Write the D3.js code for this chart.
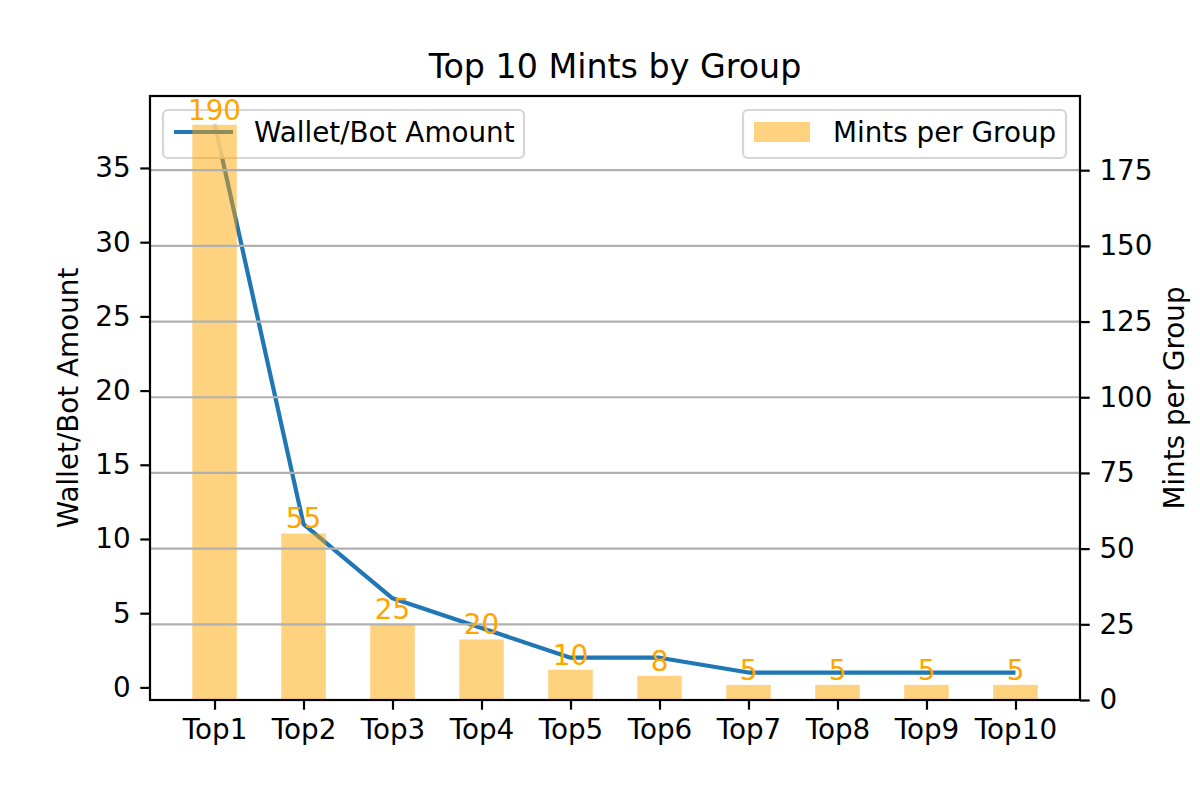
<!DOCTYPE html>
<html>
<head>
<meta charset="utf-8">
<script src="https://cdn.jsdelivr.net/npm/d3@7"></script>
<style>
  body { margin: 0; background: #fff; }
  text { font-family: "DejaVu Sans", sans-serif; }
</style>
</head>
<body>
<div id="chart"></div>
<script>
var groups = ["Top1", "Top2", "Top3", "Top4", "Top5", "Top6", "Top7", "Top8", "Top9", "Top10"];
var walletAmounts = [38, 11, 6, 4, 2, 2, 1, 1, 1, 1];
var mintsPerGroup = [190, 55, 25, 20, 10, 8, 5, 5, 5, 5];
var leftTicks = [0, 5, 10, 15, 20, 25, 30, 35];
var rightTicks = [0, 25, 50, 75, 100, 125, 150, 175];

var width = 1200, height = 800;
// plot box (note: "top" is a reserved window global, so use other names)
var plotL = 150, plotR = 1080, plotT = 96, plotB = 700;
var fs = 27.8;          // 10pt at 200 dpi
var tick = 9.7, lw = 2.2;
var blue = "#1f77b4";
var barColor = "orange";

var svg = d3.select("#chart").append("svg")
    .attr("width", width)
    .attr("height", height);

// scales, with matplotlib style margins
var barW = 0.5;
var xPad = (groups.length - 1 + barW) * 0.05;
var x = d3.scaleLinear()
    .domain([-barW / 2 - xPad, groups.length - 1 + barW / 2 + xPad])
    .range([plotL, plotR]);

var wMin = d3.min(walletAmounts), wMax = d3.max(walletAmounts);
var wPad = (wMax - wMin) * 0.05;
var y1 = d3.scaleLinear().domain([wMin - wPad, wMax + wPad]).range([plotB, plotT]);
var y2 = d3.scaleLinear().domain([0, d3.max(mintsPerGroup) * 1.05]).range([plotB, plotT]);

// line on the left axis
var line = d3.line()
    .x(function(d, i) { return x(i); })
    .y(function(d) { return y1(d); });

svg.append("path")
    .datum(walletAmounts)
    .attr("d", line)
    .attr("fill", "none")
    .attr("stroke", blue)
    .attr("stroke-width", 4.2)
    .attr("stroke-linejoin", "round");

function legendBox(bx, bw) {
  var g = svg.append("g");
  g.append("rect")
      .attr("x", bx).attr("y", 110)
      .attr("width", bw).attr("height", 48)
      .attr("rx", 5)
      .attr("fill", "#fff").attr("fill-opacity", 0.8)
      .attr("stroke", "#cccccc").attr("stroke-opacity", 0.8)
      .attr("stroke-width", 2.2);
  return g;
}

// legend of the left axis sits below the bars
var leg1 = legendBox(163, 361);
leg1.append("line")
    .attr("x1", 174).attr("x2", 233)
    .attr("y1", 132).attr("y2", 132)
    .attr("stroke", blue).attr("stroke-width", 4.2);
leg1.append("text")
    .attr("x", 254).attr("y", 132).attr("dy", "0.36em")
    .attr("font-size", fs)
    .text("Wallet/Bot Amount");

// bars on the right axis
svg.selectAll(".bar")
    .data(mintsPerGroup)
    .enter().append("rect")
    .attr("class", "bar")
    .attr("x", function(d, i) { return x(i - barW / 2); })
    .attr("width", x(barW) - x(0))
    .attr("y", function(d) { return y2(d); })
    .attr("height", function(d) { return y2(0) - y2(d); })
    .attr("fill", barColor)
    .attr("fill-opacity", 0.5);

// grid from the right axis, drawn over the bars
svg.selectAll(".grid")
    .data(rightTicks.slice(1))
    .enter().append("line")
    .attr("class", "grid")
    .attr("x1", plotL).attr("x2", plotR)
    .attr("y1", function(d) { return y2(d); })
    .attr("y2", function(d) { return y2(d); })
    .attr("stroke", "#b0b0b0")
    .attr("stroke-width", lw);

svg.selectAll(".barlabel")
    .data(mintsPerGroup)
    .enter().append("text")
    .attr("class", "barlabel")
    .attr("x", function(d, i) { return x(i); })
    .attr("y", function(d) { return y2(d) - 5; })
    .attr("text-anchor", "middle")
    .attr("font-size", fs)
    .attr("fill", barColor)
    .text(function(d) { return d; });

var leg2 = legendBox(743, 323);
leg2.append("rect")
    .attr("x", 754).attr("y", 122)
    .attr("width", 56).attr("height", 20)
    .attr("fill", barColor).attr("fill-opacity", 0.5);
leg2.append("text")
    .attr("x", 833).attr("y", 132).attr("dy", "0.36em")
    .attr("font-size", fs)
    .text("Mints per Group");

// axes
function styleAxis(g) {
  g.select(".domain").remove();
  g.selectAll(".tick line").attr("stroke", "#000").attr("stroke-width", lw);
  g.selectAll(".tick text").attr("font-size", fs).attr("fill", "#000")
      .attr("font-family", "DejaVu Sans");
}

svg.append("g")
    .attr("transform", "translate(0," + plotB + ")")
    .call(d3.axisBottom(x)
        .tickValues(d3.range(groups.length))
        .tickFormat(function(i) { return groups[i]; })
        .tickSize(tick).tickPadding(tick))
    .call(styleAxis);

svg.append("g")
    .attr("transform", "translate(" + plotL + ",0)")
    .call(d3.axisLeft(y1).tickValues(leftTicks).tickSize(tick).tickPadding(tick))
    .call(styleAxis);

svg.append("g")
    .attr("transform", "translate(" + plotR + ",0)")
    .call(d3.axisRight(y2).tickValues(rightTicks).tickSize(tick).tickPadding(tick))
    .call(styleAxis);

// spines
svg.append("rect")
    .attr("x", plotL).attr("y", plotT)
    .attr("width", plotR - plotL).attr("height", plotB - plotT)
    .attr("fill", "none")
    .attr("stroke", "#000")
    .attr("stroke-width", lw);

// titles
svg.append("text")
    .attr("x", (plotL + plotR) / 2).attr("y", 78)
    .attr("text-anchor", "middle")
    .attr("font-size", 33.3)
    .text("Top 10 Mints by Group");

svg.append("text")
    .attr("transform", "translate(78," + (plotT + plotB) / 2 + ") rotate(-90)")
    .attr("text-anchor", "middle")
    .attr("font-size", fs)
    .text("Wallet/Bot Amount");

svg.append("text")
    .attr("transform", "translate(1184," + (plotT + plotB) / 2 + ") rotate(-90)")
    .attr("text-anchor", "middle")
    .attr("font-size", fs)
    .text("Mints per Group");
</script>
</body>
</html>
